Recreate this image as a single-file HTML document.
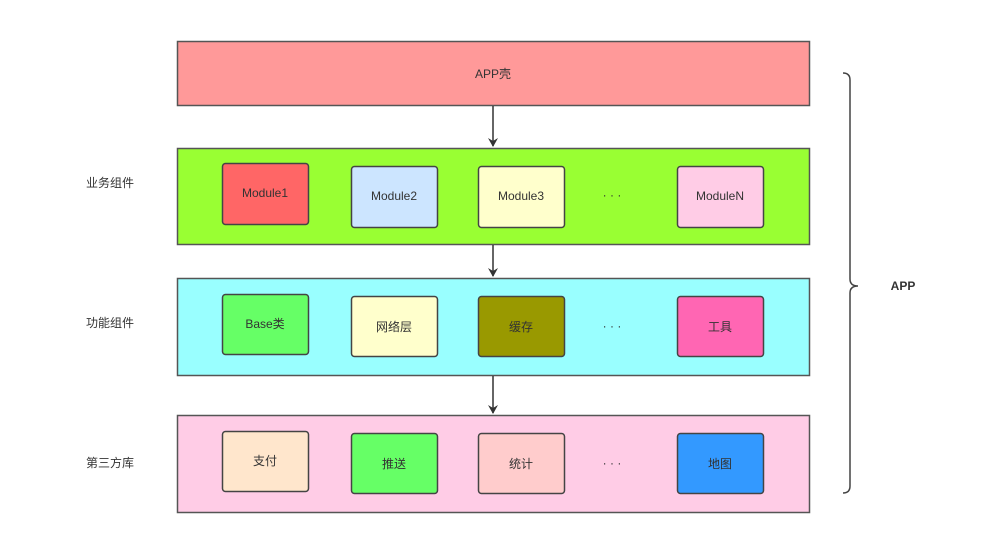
<!DOCTYPE html>
<html><head><meta charset="utf-8"><style>body{margin:0;background:#fff}svg{display:block}text{font-family:"Liberation Sans","Noto Sans CJK SC",sans-serif;font-size:12px;fill:#333}</style></head><body>
<svg width="1000" height="539" viewBox="0 0 1000 539" xmlns="http://www.w3.org/2000/svg">
<defs><marker id="a" markerWidth="10" markerHeight="10" refX="8" refY="5" orient="auto" markerUnits="userSpaceOnUse"><path d="M0,0 L9,5 L0,10 L3,5 z" fill="#333"/></marker></defs>
<g stroke="#555" stroke-width="1.5">
<rect x="177.5" y="41.5" width="632" height="64" fill="#ff9999"/>
<rect x="177.5" y="148.5" width="632" height="96" fill="#99ff33"/>
<rect x="177.5" y="278.5" width="632" height="97" fill="#99ffff"/>
<rect x="177.5" y="415.5" width="632" height="97" fill="#ffcce6"/>
</g>
<g stroke="#333" stroke-width="1.5">
<line x1="493" y1="106" x2="493" y2="146" marker-end="url(#a)"/>
<line x1="493" y1="245" x2="493" y2="276" marker-end="url(#a)"/>
<line x1="493" y1="376" x2="493" y2="413" marker-end="url(#a)"/>
</g>
<g stroke="#444" stroke-width="1.5">
<rect x="222.5" y="163.5" width="86" height="61" rx="3" fill="#ff6666"/>
<rect x="351.5" y="166.5" width="86" height="61" rx="3" fill="#cce5ff"/>
<rect x="478.5" y="166.5" width="86" height="61" rx="3" fill="#ffffcc"/>
<rect x="677.5" y="166.5" width="86" height="61" rx="3" fill="#ffcce6"/>
<rect x="222.5" y="294.5" width="86" height="60" rx="3" fill="#66ff66"/>
<rect x="351.5" y="296.5" width="86" height="60" rx="3" fill="#ffffcc"/>
<rect x="478.5" y="296.5" width="86" height="60" rx="3" fill="#999900"/>
<rect x="677.5" y="296.5" width="86" height="60" rx="3" fill="#ff66b3"/>
<rect x="222.5" y="431.5" width="86" height="60" rx="3" fill="#ffe6cc"/>
<rect x="351.5" y="433.5" width="86" height="60" rx="3" fill="#66ff66"/>
<rect x="478.5" y="433.5" width="86" height="60" rx="3" fill="#ffcccc"/>
<rect x="677.5" y="433.5" width="86" height="60" rx="3" fill="#3399ff"/>
</g>
<path d="M843,73 Q850,73 850,80 L850,279 Q850,286 858,286 Q850,286 850,293 L850,486 Q850,493 843,493" fill="none" stroke="#444" stroke-width="1.5"/>
<g text-anchor="middle">
<text x="493" y="78">APP壳</text>
<text x="265" y="197">Module1</text>
<text x="394" y="200">Module2</text>
<text x="521" y="200">Module3</text>
<text x="720" y="200">ModuleN</text>
<text x="612" y="199">· · ·</text>
<text x="265" y="328">Base类</text>
<text x="394" y="331">网络层</text>
<text x="521" y="331">缓存</text>
<text x="720" y="331">工具</text>
<text x="612" y="330">· · ·</text>
<text x="265" y="465">支付</text>
<text x="394" y="468">推送</text>
<text x="521" y="468">统计</text>
<text x="720" y="468">地图</text>
<text x="612" y="467">· · ·</text>
<text x="110" y="187">业务组件</text>
<text x="110" y="327">功能组件</text>
<text x="110" y="467">第三方库</text>
<text x="903" y="290" style="font-weight:bold">APP</text>
</g>
</svg>
</body></html>
